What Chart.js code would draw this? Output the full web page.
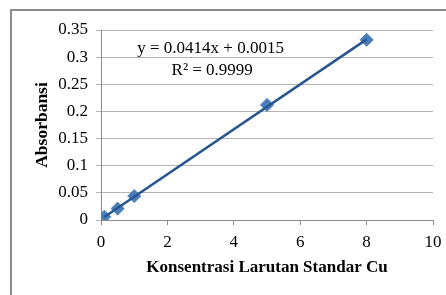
<!DOCTYPE html>
<html>
<head>
<meta charset="utf-8">
<script src="https://cdn.jsdelivr.net/npm/chart.js@4"></script>
<style>
  html, body { margin: 0; padding: 0; background: #fff; }
  #wrap { width: 446px; height: 295px; position: relative; }
</style>
</head>
<body>
<div id="wrap"><canvas id="chart" width="446" height="295"></canvas></div>
<script>
// data
const konsentrasi = [0.1, 0.5, 1, 5, 8];
const absorbansi = [0.006, 0.021, 0.044, 0.212, 0.332];
const slope = 0.0414;
const intercept = 0.0015;
const equationText = 'y = 0.0414x + 0.0015';
const r2Text = 'R\u00b2 = 0.9999';
const xTicks = [0, 2, 4, 6, 8, 10];
const yTicks = [0, 0.05, 0.1, 0.15, 0.2, 0.25, 0.3, 0.35];

const serif = "'Liberation Serif', 'Times New Roman', serif";

// trendline from the fitted equation, over the measured range
const xFirst = konsentrasi[0];
const xLast = konsentrasi[konsentrasi.length - 1];
const trend = [
  { x: xFirst, y: slope * xFirst + intercept },
  { x: xLast, y: slope * xLast + intercept },
];

const frame = {
  id: 'frame',
  beforeDraw(chart) {
    const ctx = chart.ctx;
    ctx.save();
    ctx.fillStyle = '#fff';
    ctx.fillRect(0, 0, chart.width, chart.height);
    ctx.strokeStyle = '#8c8c8c';
    ctx.lineWidth = 2;
    ctx.beginPath();
    ctx.moveTo(11, chart.height);
    ctx.lineTo(11, 10);
    ctx.lineTo(chart.width, 10);
    ctx.stroke();
    ctx.restore();
  },
  afterDatasetsDraw(chart) {
    // trendline label, placed with the scales
    const { ctx, scales: { x, y } } = chart;
    ctx.save();
    ctx.fillStyle = '#000';
    ctx.font = '17px ' + serif;
    ctx.textAlign = 'center';
    ctx.textBaseline = 'middle';
    ctx.fillText(equationText, x.getPixelForValue(3.3), y.getPixelForValue(0.316));
    ctx.fillText(r2Text, x.getPixelForValue(3.35), y.getPixelForValue(0.275));
    ctx.restore();
  },
};

function setTicks(values) {
  return scale => { scale.ticks = values.map(v => ({ value: v })); };
}

new Chart(document.getElementById('chart'), {
  type: 'scatter',
  data: {
    datasets: [
      {
        data: trend,
        type: 'line',
        showLine: true,
        borderColor: '#28568f',
        borderWidth: 2.5,
        pointRadius: 0,
        order: 0,
      },
      {
        data: konsentrasi.map((k, i) => ({ x: k, y: absorbansi[i] })),
        pointStyle: 'rectRot',
        pointRadius: 6.5,
        backgroundColor: '#4a7ebb',
        borderColor: '#4a7ebb',
        borderWidth: 1,
        order: 1,
      },
    ],
  },
  options: {
    responsive: false,
    animation: false,
    layout: { padding: { top: 30, right: 13, left: 0, bottom: 0 } },
    plugins: { legend: { display: false }, tooltip: { enabled: false } },
    scales: {
      x: {
        type: 'linear',
        min: 0,
        max: 10,
        afterBuildTicks: setTicks(xTicks),
        afterFit(scale) {
          scale.height = 75;
          scale.paddingRight = 0;
          scale.paddingLeft = 0;
        },
        grid: { display: true, drawOnChartArea: false, drawTicks: true, tickLength: 5, color: '#8c8c8c' },
        border: { color: '#8c8c8c' },
        ticks: { color: '#000', padding: 7, maxRotation: 0, font: { family: serif, size: 17 } },
        title: {
          display: true,
          text: 'Konsentrasi Larutan Standar Cu',
          color: '#000',
          font: { family: serif, size: 17, weight: 'bold' },
          padding: { top: 0, bottom: 17 },
        },
      },
      y: {
        min: 0,
        max: 0.35,
        afterBuildTicks: setTicks(yTicks),
        afterFit(scale) { scale.width = 101; },
        grid: { color: '#b4b4b4', tickLength: 5, drawTicks: true },
        border: { color: '#8c8c8c' },
        ticks: {
          color: '#000',
          padding: 8,
          font: { family: serif, size: 17 },
          callback: v => String(parseFloat(v.toFixed(2))),
        },
        title: {
          display: true,
          text: 'Absorbansi',
          color: '#000',
          font: { family: serif, size: 17.5, weight: 'bold' },
          padding: { top: 32, bottom: 0 },
        },
      },
    },
  },
  plugins: [frame],
});
</script>
</body>
</html>
